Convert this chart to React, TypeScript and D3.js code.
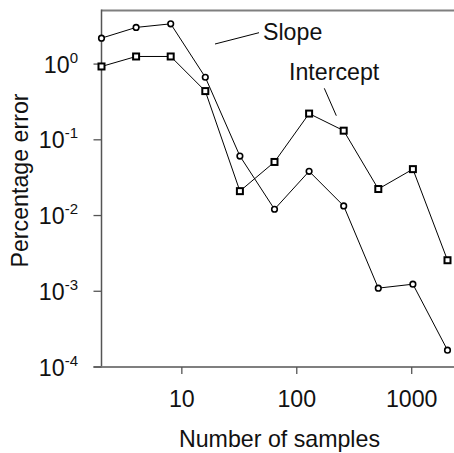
import React from "react";
import * as d3 from "d3";

const samples = [2, 4, 8, 16, 32, 64, 128, 256, 512, 1024, 2048];
const slopeErr = [2.2, 3.05, 3.4, 0.67, 0.061, 0.0121, 0.0384, 0.0134, 0.0011, 0.00124, 0.000167];
const interceptErr = [0.93, 1.26, 1.26, 0.44, 0.021, 0.051, 0.222, 0.132, 0.0224, 0.041, 0.00257];
const xTicks = [10, 100, 1000];
const xTickLabels = ["10", "100", "1000"];
const yTicks = [1, 0.1, 0.01, 0.001, 0.0001];
const yTickExps = ["0", "-1", "-2", "-3", "-4"];

const W = 454;
const H = 453;
const left = 101.5;
const right = 454;
const top = 10.5;
const bottom = 367;
const FONT = "'Liberation Sans', Arial, sans-serif";
const FS = 23.2;

export default function App() {
  const x = d3.scaleLog().domain([2, 2333]).range([left, right]);
  const y = d3.scaleLog().domain([0.0001, 5.1]).range([bottom, top]);
  const line = d3
    .line<number>()
    .x((_, i) => x(samples[i]))
    .y((d) => y(d));

  return (
    <svg
      width={W}
      height={H}
      style={{ position: "absolute", left: 0, top: 0, background: "#fff" }}
      fontFamily={FONT}
    >
      {/* frame */}
      <line x1={left} x2={right} y1={top} y2={top} stroke="#7f7f7f" strokeWidth={2} />
      <line x1={left} x2={left} y1={top - 1} y2={bottom} stroke="#555" strokeWidth={1.5} />
      <line x1={left - 8} x2={right} y1={bottom} y2={bottom} stroke="#7f7f7f" strokeWidth={2} />

      {/* y ticks */}
      {yTicks.map((t, i) => (
        <g key={"y" + i}>
          <line x1={left - 8} x2={left} y1={y(t)} y2={y(t)} stroke="#555" strokeWidth={1.3} />
          <text x={78} y={y(t) + 8.6} textAnchor="end" fontSize={FS} fill="#111">
            10
            <tspan fontSize={15} dy={-10}>
              {yTickExps[i]}
            </tspan>
          </text>
        </g>
      ))}

      {/* x ticks */}
      {xTicks.map((t, i) => (
        <g key={"x" + i}>
          <line x1={x(t)} x2={x(t)} y1={bottom} y2={bottom + 7} stroke="#555" strokeWidth={1.3} />
          <text x={x(t)} y={406.5} textAnchor="middle" fontSize={FS} fill="#111">
            {xTickLabels[i]}
          </text>
        </g>
      ))}

      {/* axis labels */}
      <text x={279.5} y={446.5} textAnchor="middle" fontSize={FS} fill="#111">
        Number of samples
      </text>
      <text
        transform={`translate(27.5,180.5) rotate(-90)`}
        textAnchor="middle"
        fontSize={FS}
        fill="#111"
      >
        Percentage error
      </text>

      {/* series lines */}
      <path d={line(slopeErr) || ""} fill="none" stroke="#000" strokeWidth={1} />
      <path d={line(interceptErr) || ""} fill="none" stroke="#000" strokeWidth={1} />

      {/* markers */}
      {slopeErr.map((v, i) => (
        <circle
          key={"c" + i}
          cx={x(samples[i])}
          cy={y(v)}
          r={2.8}
          fill="#fff"
          stroke="#000"
          strokeWidth={1.6}
        />
      ))}
      {interceptErr.map((v, i) => (
        <rect
          key={"s" + i}
          x={x(samples[i]) - 3}
          y={y(v) - 3}
          width={6}
          height={6}
          fill="#fff"
          stroke="#000"
          strokeWidth={2}
        />
      ))}

      {/* annotations */}
      <line x1={215} y1={44} x2={259} y2={32.7} stroke="#000" strokeWidth={1} />
      <text x={263} y={39.5} fontSize={FS} fill="#111">
        Slope
      </text>
      <line x1={324.3} y1={88.3} x2={336.3} y2={115.7} stroke="#000" strokeWidth={1} />
      <text x={289} y={80} fontSize={FS} fill="#111">
        Intercept
      </text>
    </svg>
  );
}
